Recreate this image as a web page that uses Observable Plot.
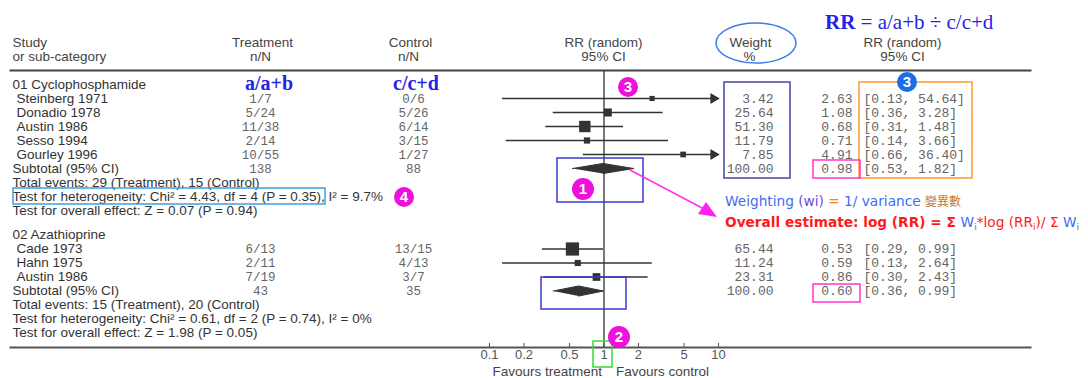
<!DOCTYPE html>
<html><head><meta charset="utf-8">
<script src="https://cdn.jsdelivr.net/npm/d3@7"></script>
<script src="https://cdn.jsdelivr.net/npm/@observablehq/plot@0.6"></script>
<style>
body{margin:0;background:#fff;}
#chart{width:1088px;height:378px;overflow:hidden;position:relative;}
</style></head><body><div id="chart"></div>
<script>
// ---------- DATA ----------
const groupNames = ["01 Cyclophosphamide", "02 Azathioprine"];
const g1Study = ["Steinberg 1971", "Donadio 1978", "Austin 1986", "Sesso 1994", "Gourley 1996"];
const g1Treat = ["1/7", "5/24", "11/38", "2/14", "10/55"];
const g1Ctrl = ["0/6", "5/26", "6/14", "3/15", "1/27"];
const g1Weight = [3.42, 25.64, 51.30, 11.79, 7.85];
const g1RR = [2.63, 1.08, 0.68, 0.71, 4.91];
const g1Lo = [0.13, 0.36, 0.31, 0.14, 0.66];
const g1Hi = [54.64, 3.28, 1.48, 3.66, 36.40];

const g2Study = ["Cade 1973", "Hahn 1975", "Austin 1986"];
const g2Treat = ["6/13", "2/11", "7/19"];
const g2Ctrl = ["13/15", "4/13", "3/7"];
const g2Weight = [65.44, 11.24, 23.31];
const g2RR = [0.53, 0.59, 0.86];
const g2Lo = [0.29, 0.13, 0.30];
const g2Hi = [0.99, 2.64, 2.43];

const subTreatN = ["138", "43"];
const subCtrlN = ["88", "35"];
const subWeight = [100.00, 100.00];
const subRR = [0.98, 0.60];
const subLo = [0.53, 0.36];
const subHi = [1.82, 0.99];
const totalEvents = ["Total events: 29 (Treatment), 15 (Control)", "Total events: 15 (Treatment), 20 (Control)"];
const heterogeneity = ["Test for heterogeneity: Chi\u00b2 = 4.43, df = 4 (P = 0.35), I\u00b2 = 9.7%",
                       "Test for heterogeneity: Chi\u00b2 = 0.61, df = 2 (P = 0.74), I\u00b2 = 0%"];
const overallEffect = ["Test for overall effect: Z = 0.07 (P = 0.94)", "Test for overall effect: Z = 1.98 (P = 0.05)"];
const xTicks = [0.1, 0.2, 0.5, 1, 2, 5, 10];
const favourLabels = ["Favours treatment", "Favours control"];

// ---------- BUILD TABLE ----------
const groups = [
  {study: g1Study, treat: g1Treat, ctrl: g1Ctrl, weight: g1Weight, rr: g1RR, lo: g1Lo, hi: g1Hi},
  {study: g2Study, treat: g2Treat, ctrl: g2Ctrl, weight: g2Weight, rr: g2RR, lo: g2Lo, hi: g2Hi}
];
const groupStart = [0, 10.75];
const studies = [], subtotals = [], leftText = [];
groups.forEach((g, gi) => {
  const s = groupStart[gi];
  leftText.push({row: s, text: groupNames[gi], indent: 0});
  g.study.forEach((name, i) => {
    const row = s + 1 + i;
    leftText.push({row, text: name, indent: 1});
    studies.push({row, name, treat: g.treat[i], ctrl: g.ctrl[i], weight: g.weight[i], rr: g.rr[i], lo: g.lo[i], hi: g.hi[i]});
  });
  const sr = s + 1 + g.study.length;
  leftText.push({row: sr, text: "Subtotal (95% CI)", indent: 0});
  subtotals.push({row: sr, group: gi, treat: subTreatN[gi], ctrl: subCtrlN[gi], weight: subWeight[gi], rr: subRR[gi], lo: subLo[gi], hi: subHi[gi]});
  leftText.push({row: sr + 1, text: totalEvents[gi], indent: 0});
  leftText.push({row: sr + 2, text: heterogeneity[gi], indent: 0});
  leftText.push({row: sr + 3, text: overallEffect[gi], indent: 0});
});
const numRows = [...studies, ...subtotals];
const xMax = xTicks[xTicks.length - 1];
const clipped = studies.filter(d => d.hi > xMax);
const diamondH = 0.36;
const diamonds = subtotals.flatMap(d => [
  {g: d.group, x: d.lo, y: d.row}, {g: d.group, x: d.rr, y: d.row - diamondH},
  {g: d.group, x: d.hi, y: d.row}, {g: d.group, x: d.rr, y: d.row + diamondH}
]);

// ---------- STYLE / LAYOUT ----------
const ML = 10;
const at = px => px - ML;
const sans = "Liberation Sans, Arial, sans-serif";
const mono = "Liberation Mono, Courier New, monospace";
const dark = "#333";
const gray = "#666";
const fs = 13.5;
const f2 = v => v.toFixed(2);

const headers = [
  {row: -3, text: "Study", px: 12, anchor: "start"},
  {row: -2, text: "or sub-category", px: 12, anchor: "start"},
  {row: -3, text: "Treatment", px: 262, anchor: "middle"},
  {row: -2, text: "n/N", px: 260, anchor: "middle"},
  {row: -3, text: "Control", px: 410, anchor: "middle"},
  {row: -2, text: "n/N", px: 408, anchor: "middle"},
  {row: -3, text: "RR (random)", px: 603, anchor: "middle"},
  {row: -2, text: "95% CI", px: 603, anchor: "middle"},
  {row: -3, text: "Weight", px: 750, anchor: "middle"},
  {row: -2, text: "%", px: 749, anchor: "middle"},
  {row: -3, text: "RR (random)", px: 902, anchor: "middle"},
  {row: -2, text: "95% CI", px: 902, anchor: "middle"}
];

const plot = Plot.plot({
  width: 1088, height: 378,
  marginTop: 70, marginBottom: 31, marginLeft: ML, marginRight: 58,
  style: {background: "white", fontFamily: sans, overflow: "visible"},
  x: {type: "log", domain: [0.1, 10], range: [489, 718], label: null},
  y: {type: "linear", domain: [0, 1], range: [84, 98], axis: null},
  r: {type: "linear", domain: [0, 66], range: [2.65, 7.5]},
  marks: [
    Plot.frame({anchor: "top", stroke: "#444", strokeWidth: 2}),
    Plot.frame({anchor: "bottom", stroke: "#555", strokeWidth: 2}),
    Plot.ruleX([1], {stroke: dark, strokeWidth: 1.3}),
    Plot.axisX({ticks: xTicks, tickFormat: d => String(d), tickSize: -4, tickPadding: 6, fontSize: 13, color: "#555", label: null}),
    Plot.text(favourLabels, {text: d => d, x: 1, y: 20.5, textAnchor: "end", fontSize: fs, fill: "#444", filter: (d, i) => i === 0, dx: -2}),
    Plot.text(favourLabels, {text: d => d, x: 1, y: 20.5, textAnchor: "start", fontSize: fs, fill: "#444", filter: (d, i) => i === 1, dx: 12}),
    // CI lines
    Plot.ruleY(studies, {y: "row", x1: "lo", x2: d => Math.min(d.hi, xMax), stroke: dark, strokeWidth: 1.3}),
    Plot.dot(clipped, {x: () => xMax, y: "row", symbol: "triangle", rotate: 90, r: 4, fill: dark, dx: -5}),
    Plot.dot(studies, {x: "rr", y: "row", r: "weight", symbol: "square", fill: dark}),
    Plot.line(diamonds, {x: "x", y: "y", z: "g", fill: dark, stroke: dark, strokeWidth: 1}),
    // headers
    ...headers.map(h => Plot.text([h], {text: "text", y: "row", frameAnchor: "left", dx: at(h.px), textAnchor: h.anchor, fontSize: fs, fill: "#444"})),
    // left column
    Plot.text(leftText, {text: "text", y: "row", frameAnchor: "left", textAnchor: "start", fontSize: fs, fill: dark, filter: d => d.indent === 0, dx: at(12)}),
    Plot.text(leftText, {text: "text", y: "row", frameAnchor: "left", textAnchor: "start", fontSize: fs, fill: dark, filter: d => d.indent === 1, dx: at(16)}),
    // n/N columns
    Plot.text(numRows, {text: "treat", y: "row", frameAnchor: "left", dx: at(260), textAnchor: "middle", fontSize: 12.5, fontFamily: mono, fill: gray}),
    Plot.text(numRows, {text: "ctrl", y: "row", frameAnchor: "left", dx: at(413), textAnchor: "middle", fontSize: 12.5, fontFamily: mono, fill: gray}),
    // weight / rr / ci
    Plot.text(numRows, {text: d => f2(d.weight), y: "row", frameAnchor: "left", dx: at(773), textAnchor: "end", fontSize: 13, fontFamily: mono, fill: gray}),
    Plot.text(numRows, {text: d => f2(d.rr), y: "row", frameAnchor: "left", dx: at(852), textAnchor: "end", fontSize: 13, fontFamily: mono, fill: gray}),
    Plot.text(numRows, {text: d => `[${f2(d.lo)}, ${f2(d.hi)}]`, y: "row", frameAnchor: "left", dx: at(863), textAnchor: "start", fontSize: 13, fontFamily: mono, fill: gray})
  ]
});
document.getElementById("chart").append(plot);

// ---------- ANNOTATIONS (overlay) ----------
const svg = d3.select(plot);
const ann = svg.append("g").attr("class", "annotations").attr("text-anchor", "start");
const boxes = [
  {x: 724, y: 82, w: 66, h: 96, c: "#4646a8"},
  {x: 859, y: 82, w: 113, h: 96, c: "#ff9a2e"},
  {x: 813, y: 160, w: 47, h: 18, c: "#ff33cc"},
  {x: 813, y: 284, w: 47, h: 18, c: "#ff33cc"},
  {x: 557, y: 158, w: 86, h: 44, c: "#3a3ad0"},
  {x: 541, y: 277, w: 85, h: 32, c: "#3a3ad0"},
  {x: 593, y: 341, w: 19, h: 26, c: "#33dd33"},
  {x: 13, y: 188, w: 312, h: 16, c: "#3aa0e8"}
];
ann.selectAll("rect.box").data(boxes).join("rect")
  .attr("x", d => d.x).attr("y", d => d.y).attr("width", d => d.w).attr("height", d => d.h)
  .attr("fill", "none").attr("stroke", d => d.c).attr("stroke-width", 1.5);
ann.append("ellipse").attr("cx", 756).attr("cy", 43).attr("rx", 40).attr("ry", 20)
  .attr("fill", "none").attr("stroke", "#3a7ae8").attr("stroke-width", 1.5);
// magenta arrow
ann.append("line").attr("x1", 630).attr("y1", 170).attr("x2", 706).attr("y2", 210)
  .attr("stroke", "#ff33ee").attr("stroke-width", 1.5);
ann.append("path").attr("d", "M717,217 L698,214 L706,202 Z").attr("fill", "#ff22ee");
// badges
const badges = [
  {cx: 628, cy: 87, r: 10, fill: "#ee11dd", t: "3"},
  {cx: 907, cy: 82, r: 10, fill: "#1a6fe8", t: "3"},
  {cx: 583, cy: 189, r: 11, fill: "#ee11dd", t: "1"},
  {cx: 619, cy: 337, r: 11, fill: "#ee11dd", t: "2"},
  {cx: 404, cy: 197, r: 10, fill: "#ee11dd", t: "4"}
];
const bg = ann.selectAll("g.badge").data(badges).join("g").attr("transform", d => `translate(${d.cx},${d.cy})`);
bg.append("circle").attr("r", d => d.r).attr("fill", d => d.fill);
bg.append("text").text(d => d.t).attr("text-anchor", "middle").attr("dy", "0.36em")
  .attr("fill", "white").attr("font-weight", "bold").attr("font-size", 15).attr("font-family", sans);
// formula labels
const serif = "Liberation Serif, Times New Roman, serif";
const blue = "#2424e4";
[{x: 245, t: "a/a+b"}, {x: 393, t: "c/c+d"}].forEach(d => {
  ann.append("text").attr("x", d.x).attr("y", 83).attr("dy", "0.35em").text(d.t)
    .attr("fill", blue).attr("font-family", serif).attr("font-weight", "bold").attr("font-size", 20);
});
const rrEq = ann.append("text").attr("x", 825).attr("y", 22).attr("dy", "0.35em")
  .attr("fill", blue).attr("font-family", serif).attr("font-size", 21);
rrEq.append("tspan").attr("font-weight", "bold").text("RR");
rrEq.append("tspan").text(" = a/a+b \u00f7 c/c+d");

const vf = "DejaVu Sans, Verdana, sans-serif";
const lightBlue = "#3d6cf2";
const w1 = ann.append("text").attr("x", 725).attr("y", 201).attr("dy", "0.35em").attr("font-family", vf).attr("font-size", 13.7);
w1.append("tspan").attr("fill", lightBlue).text("Weighting ");
w1.append("tspan").attr("fill", "#6a4ae6").text("(wi)");
w1.append("tspan").attr("fill", "#f08a10").text(" = ");
w1.append("tspan").attr("fill", lightBlue).text("1/ variance ");
w1.append("tspan").attr("fill", "#c47a3a").attr("font-family", "Noto Sans CJK TC").attr("font-size", 12).text("\u8b8a\u7570\u6578");

const red = "#ff1a1a";
const w2 = ann.append("text").attr("x", 725).attr("y", 222).attr("dy", "0.35em").attr("font-family", vf).attr("font-size", 13.7);
w2.append("tspan").attr("fill", red).attr("font-weight", "bold").text("Overall estimate: log (RR) = \u03a3 ");
w2.append("tspan").attr("fill", lightBlue).text("W");
w2.append("tspan").attr("fill", lightBlue).attr("font-size", 9).attr("dy", 3).text("i");
w2.append("tspan").attr("fill", red).attr("dy", -3).text("*log (RR");
w2.append("tspan").attr("fill", red).attr("font-size", 9).attr("dy", 3).text("i");
w2.append("tspan").attr("fill", red).attr("dy", -3).text(")/ \u03a3 ");
w2.append("tspan").attr("fill", lightBlue).text("W");
w2.append("tspan").attr("fill", lightBlue).attr("font-size", 9).attr("dy", 3).text("i");
</script></body></html>
